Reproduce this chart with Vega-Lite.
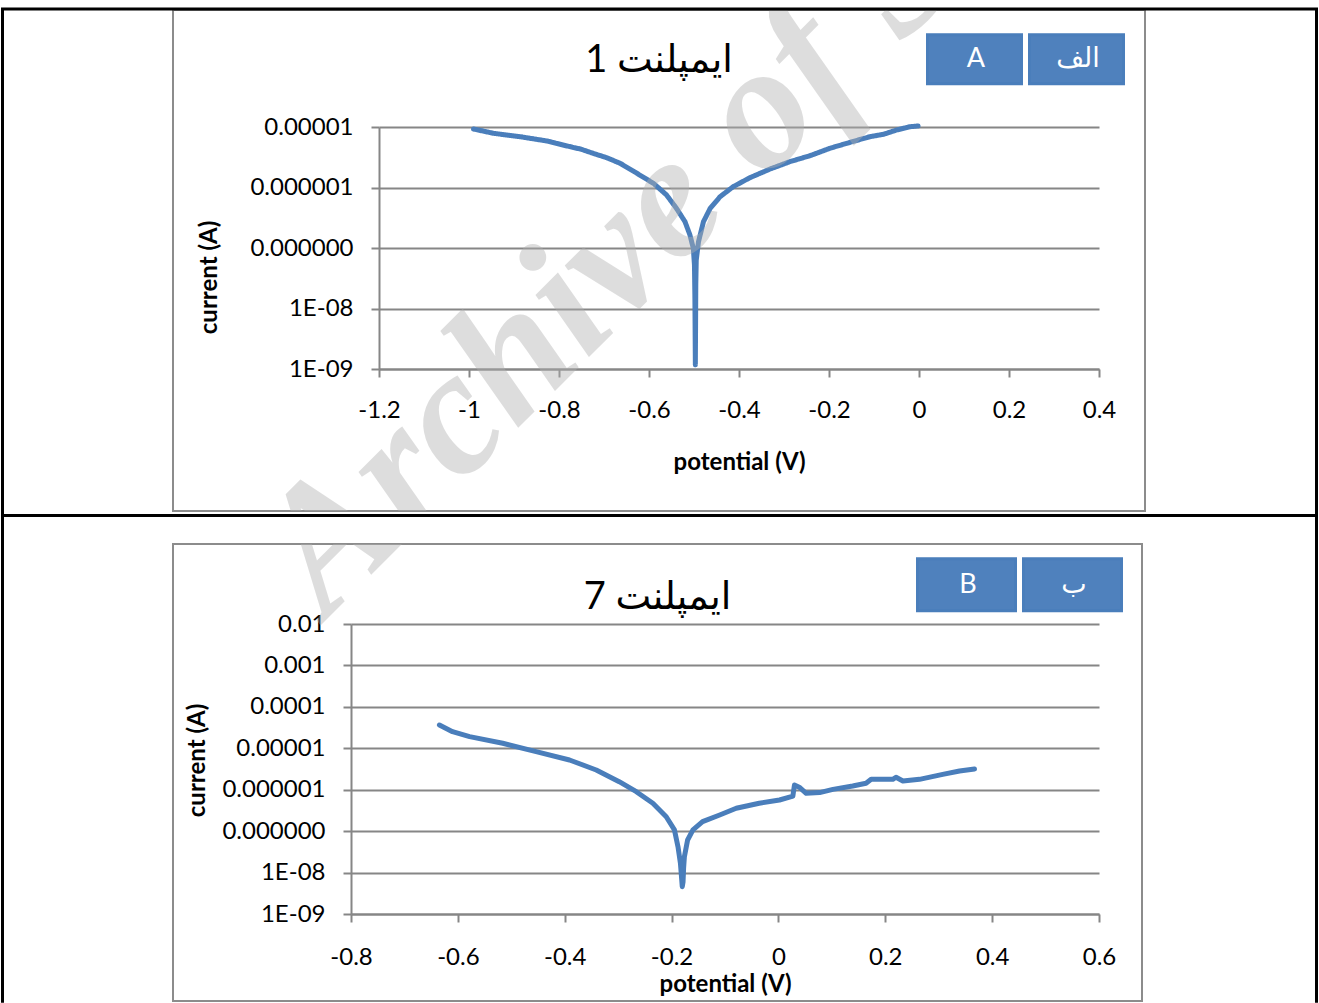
{
  "$schema": "https://vega.github.io/schema/vega-lite/v6.json",
  "background": "white",
  "padding": {"left": 172, "top": 9, "right": 0, "bottom": 0},
  "bounds": "flush",
  "spacing": 33,
  "resolve": {
    "scale": {"color": "independent", "strokeDash": "independent"},
    "legend": {"color": "independent", "strokeDash": "independent"}
  },
  "config": {
    "font": "Lato",
    "view": {"stroke": "#8c8c8c", "strokeWidth": 2},
    "axis": {
      "domainColor": "#868686", "domainWidth": 2,
      "tickColor": "#868686", "tickWidth": 2, "tickSize": 8,
      "gridColor": "#868686", "gridWidth": 2, "gridOpacity": 1,
      "labelFont": "Lato", "labelFontSize": 24, "labelColor": "#000000",
      "titleFont": "Lato", "titleFontSize": 24, "titleFontWeight": "bold", "titleColor": "#000000",
      "labelFlush": false, "labelOverlap": false, "labelBound": false
    },
    "legend": {
      "orient": "none", "direction": "horizontal", "columns": 2, "padding": 0,
      "symbolFillColor": "#4f81bd", "symbolStrokeColor": "#385d8a", "symbolStrokeWidth": 3, "symbolOpacity": 1,
      "labelColor": "#ffffff", "labelFont": "Lato, DejaVu Sans", "labelFontSize": 27,
      "labelAlign": "center", "labelBaseline": "middle"
    },
    "title": {"font": "Lato, DejaVu Sans", "fontSize": 38, "fontWeight": "normal", "color": "#000000", "anchor": "middle", "frame": "group", "baseline": "alphabetic"}
  },
  "datasets": {
    "p1": [
      {"n": 1, "E": -0.990, "I": 9.27e-6},
      {"n": 2, "E": -0.946, "I": 7.87e-6},
      {"n": 3, "E": -0.887, "I": 6.92e-6},
      {"n": 4, "E": -0.827, "I": 5.87e-6},
      {"n": 5, "E": -0.776, "I": 4.73e-6},
      {"n": 6, "E": -0.750, "I": 4.27e-6},
      {"n": 7, "E": -0.724, "I": 3.67e-6},
      {"n": 8, "E": -0.694, "I": 3.11e-6},
      {"n": 9, "E": -0.664, "I": 2.51e-6},
      {"n": 10, "E": -0.627, "I": 1.72e-6},
      {"n": 11, "E": -0.590, "I": 1.17e-6},
      {"n": 12, "E": -0.561, "I": 7.52e-7},
      {"n": 13, "E": -0.539, "I": 4.53e-7},
      {"n": 14, "E": -0.520, "I": 2.72e-7},
      {"n": 15, "E": -0.509, "I": 1.64e-7},
      {"n": 16, "E": -0.5015, "I": 9.89e-8},
      {"n": 17, "E": -0.499, "I": 5.25e-8},
      {"n": 18, "E": -0.498, "I": 1.48e-8},
      {"n": 19, "E": -0.4975, "I": 4.17e-9},
      {"n": 20, "E": -0.497, "I": 1.17e-9},
      {"n": 21, "E": -0.4965, "I": 5.0e-9},
      {"n": 22, "E": -0.496, "I": 2.51e-8},
      {"n": 23, "E": -0.495, "I": 6.31e-8},
      {"n": 24, "E": -0.490, "I": 1.27e-7},
      {"n": 25, "E": -0.479, "I": 2.72e-7},
      {"n": 26, "E": -0.464, "I": 4.53e-7},
      {"n": 27, "E": -0.442, "I": 7.05e-7},
      {"n": 28, "E": -0.413, "I": 1.03e-6},
      {"n": 29, "E": -0.376, "I": 1.45e-6},
      {"n": 30, "E": -0.331, "I": 2.02e-6},
      {"n": 31, "E": -0.287, "I": 2.67e-6},
      {"n": 32, "E": -0.242, "I": 3.36e-6},
      {"n": 33, "E": -0.198, "I": 4.45e-6},
      {"n": 34, "E": -0.153, "I": 5.58e-6},
      {"n": 35, "E": -0.109, "I": 6.92e-6},
      {"n": 36, "E": -0.079, "I": 7.57e-6},
      {"n": 37, "E": -0.050, "I": 8.91e-6},
      {"n": 38, "E": -0.020, "I": 1.01e-5},
      {"n": 39, "E": -0.002, "I": 1.04e-5}
    ],
    "p2": [
      {"n": 1, "E": -0.6345, "I": 3.65e-5},
      {"n": 2, "E": -0.610, "I": 2.52e-5},
      {"n": 3, "E": -0.578, "I": 1.91e-5},
      {"n": 4, "E": -0.516, "I": 1.32e-5},
      {"n": 5, "E": -0.4535, "I": 8.28e-6},
      {"n": 6, "E": -0.391, "I": 5.21e-6},
      {"n": 7, "E": -0.341, "I": 2.99e-6},
      {"n": 8, "E": -0.298, "I": 1.56e-6},
      {"n": 9, "E": -0.266, "I": 8.95e-7},
      {"n": 10, "E": -0.235, "I": 4.70e-7},
      {"n": 11, "E": -0.210, "I": 2.23e-7},
      {"n": 12, "E": -0.1946, "I": 1.07e-7},
      {"n": 13, "E": -0.188, "I": 4.22e-8},
      {"n": 14, "E": -0.1834, "I": 1.67e-8},
      {"n": 15, "E": -0.180, "I": 4.57e-9},
      {"n": 16, "E": -0.1785, "I": 6.0e-9},
      {"n": 17, "E": -0.1775, "I": 1.26e-8},
      {"n": 18, "E": -0.176, "I": 2.42e-8},
      {"n": 19, "E": -0.170, "I": 6.11e-8},
      {"n": 20, "E": -0.160, "I": 1.07e-7},
      {"n": 21, "E": -0.142, "I": 1.69e-7},
      {"n": 22, "E": -0.110, "I": 2.45e-7},
      {"n": 23, "E": -0.079, "I": 3.56e-7},
      {"n": 24, "E": -0.036, "I": 4.70e-7},
      {"n": 25, "E": 0.002, "I": 5.65e-7},
      {"n": 26, "E": 0.024, "I": 6.79e-7},
      {"n": 27, "E": 0.027, "I": 7.0e-7},
      {"n": 28, "E": 0.030, "I": 1.30e-6},
      {"n": 29, "E": 0.039, "I": 1.15e-6},
      {"n": 30, "E": 0.052, "I": 8.18e-7},
      {"n": 31, "E": 0.077, "I": 8.51e-7},
      {"n": 32, "E": 0.102, "I": 1.02e-6},
      {"n": 33, "E": 0.139, "I": 1.23e-6},
      {"n": 34, "E": 0.164, "I": 1.43e-6},
      {"n": 35, "E": 0.1735, "I": 1.78e-6},
      {"n": 36, "E": 0.214, "I": 1.78e-6},
      {"n": 37, "E": 0.220, "I": 2.00e-6},
      {"n": 38, "E": 0.233, "I": 1.62e-6},
      {"n": 39, "E": 0.264, "I": 1.78e-6},
      {"n": 40, "E": 0.3075, "I": 2.34e-6},
      {"n": 41, "E": 0.339, "I": 2.82e-6},
      {"n": 42, "E": 0.367, "I": 3.16e-6}
    ]
  },
  "vconcat": [
    {
      "width": 972,
      "height": 501,
      "title": {"text": "ایمپلنت 1", "offset": -70},
      "layer": [
        {
          "data": {"name": "p1"},
          "mark": {"type": "line", "strokeWidth": 5, "strokeCap": "round", "strokeJoin": "round"},
          "encoding": {
            "x": {
              "field": "E", "type": "quantitative",
              "scale": {"domain": [-1.2, 0.4], "range": [206, 926], "nice": false, "zero": false},
              "axis": {"values": [-1.2, -1, -0.8, -0.6, -0.4, -0.2, 0, 0.2, 0.4], "offset": -142, "labelExpr": "'' + datum.value", "labelPadding": 21, "title": "potential (V)", "titlePadding": 28, "grid": false}
            },
            "y": {
              "field": "I", "type": "quantitative",
              "scale": {"type": "log", "domain": [1e-9, 1e-5], "range": [359, 117], "nice": false},
              "axis": {"values": [1e-9, 1e-8, 1e-7, 1e-6, 1e-5], "offset": -206, "labelExpr": "datum.value < 5e-9 ? '1E-09' : datum.value < 5e-8 ? '1E-08' : datum.value < 5e-7 ? '0.000000' : replace(format(datum.value, '.6~f'), '−', '-')", "labelPadding": 18, "title": "current (A)", "titlePadding": 28, "titleY": 267, "grid": true}
            },
            "order": {"field": "n"},
            "color": {
              "datum": "A", "type": "nominal",
              "scale": {"domain": ["A", "الف"], "range": ["#4a7ebb", "#4a7ebb"]},
              "legend": {
                "title": null, "legendX": 753, "legendY": 23,
                "symbolType": "M-1,-1H1V0.0426H-1Z", "symbolSize": 8836,
                "labelOffset": -47, "columnPadding": -9,
                "encode": {
                  "symbols": {"update": {"fill": {"value": "#4f81bd"}, "stroke": {"value": "#385d8a"}, "strokeWidth": {"value": 3}, "opacity": {"value": 1}}},
                  "labels": {"update": {"dy": {"value": -22.5}}}
                }
              }
            },
            "strokeDash": {
              "datum": "table", "type": "nominal",
              "scale": {"domain": ["table"], "range": [[1, 0]]},
              "legend": {
                "title": null, "legendX": 0, "legendY": 0,
                "symbolType": "M-184,979V-14.75H1130V979M-184,491.75H1130", "symbolSize": 4,
                "labelExpr": "''",
                "encode": {
                  "symbols": {"update": {"fill": {"value": "transparent"}, "stroke": {"value": "#000000"}, "strokeWidth": {"value": 3}, "strokeDash": {"value": [1, 0]}, "opacity": {"value": 1}}}
                }
              }
            }
          }
        },
        {
          "data": {"values": [{}]},
          "mark": {"type": "text", "text": "Archive of SID", "font": "Liberation Serif", "fontStyle": "italic", "fontWeight": "bold", "fontSize": 178, "angle": 315, "align": "left", "baseline": "alphabetic", "color": "#b0b0b0", "opacity": 0.42, "clip": true},
          "encoding": {
            "x": {"datum": -1.3156, "type": "quantitative"},
            "y": {"datum": 7.38e-14, "type": "quantitative"}
          }
        }
      ]
    },
    {
      "width": 969,
      "height": 457,
      "title": {"text": "ایمپلنت 7", "offset": -73},
      "layer": [
        {
          "data": {"name": "p2"},
          "mark": {"type": "line", "strokeWidth": 5, "strokeCap": "round", "strokeJoin": "round"},
          "encoding": {
            "x": {
              "field": "E", "type": "quantitative",
              "scale": {"domain": [-0.8, 0.6], "range": [178, 926], "nice": false, "zero": false},
              "axis": {"values": [-0.8, -0.6, -0.4, -0.2, 0, 0.2, 0.4, 0.6], "offset": -87, "labelExpr": "'' + datum.value", "labelPadding": 23, "title": "potential (V)", "titlePadding": 3, "grid": false}
            },
            "y": {
              "field": "I", "type": "quantitative",
              "scale": {"type": "log", "domain": [1e-9, 1e-2], "range": [370, 80], "nice": false},
              "axis": {"values": [1e-9, 1e-8, 1e-7, 1e-6, 1e-5, 1e-4, 1e-3, 1e-2], "offset": -178, "labelExpr": "datum.value < 5e-9 ? '1E-09' : datum.value < 5e-8 ? '1E-08' : datum.value < 5e-7 ? '0.000000' : replace(format(datum.value, '.6~f'), '−', '-')", "labelPadding": 18, "title": "current (A)", "titlePadding": 12, "titleY": 216, "grid": true}
            },
            "order": {"field": "n"},
            "color": {
              "datum": "B", "type": "nominal",
              "scale": {"domain": ["B", "ب"], "range": ["#4a7ebb", "#4a7ebb"]},
              "legend": {
                "title": null, "legendX": 743, "legendY": 13,
                "symbolType": "M-1,-1H1V0.0612H-1Z", "symbolSize": 9604,
                "labelOffset": -49, "columnPadding": -7,
                "encode": {
                  "symbols": {"update": {"fill": {"value": "#4f81bd"}, "stroke": {"value": "#385d8a"}, "strokeWidth": {"value": 3}, "opacity": {"value": 1}}},
                  "labels": {"update": {"dy": {"value": -23}}}
                }
              }
            }
          }
        },
        {
          "data": {"values": [{}]},
          "mark": {"type": "text", "text": "Archive of SID", "font": "Liberation Serif", "fontStyle": "italic", "fontWeight": "bold", "fontSize": 178, "angle": 315, "align": "left", "baseline": "alphabetic", "color": "#b0b0b0", "opacity": 0.42, "clip": true},
          "encoding": {
            "x": {"datum": -0.8449, "type": "quantitative"},
            "y": {"datum": 0.0132, "type": "quantitative"}
          }
        }
      ]
    }
  ]
}
